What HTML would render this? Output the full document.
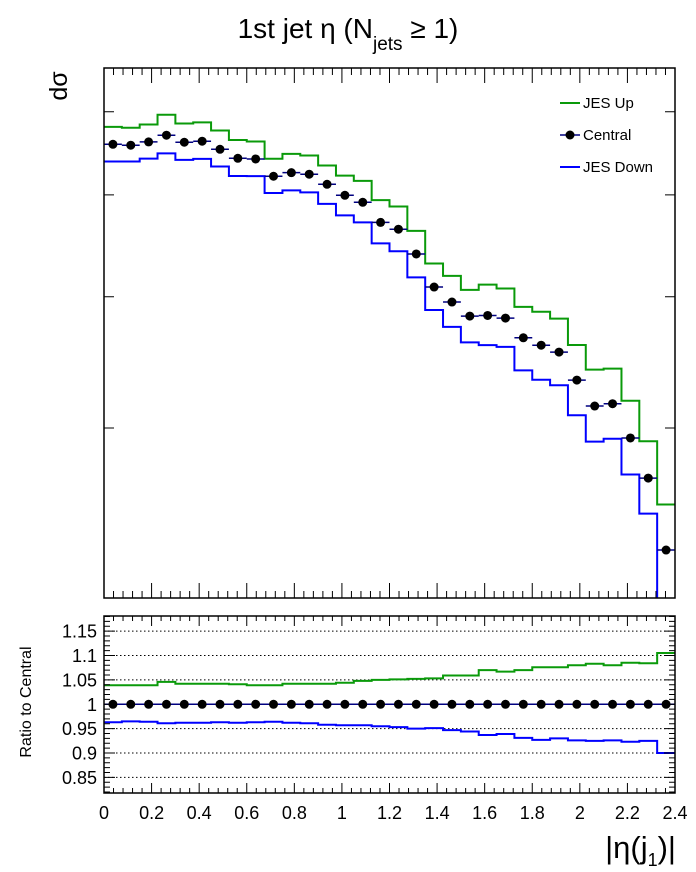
<!DOCTYPE html>
<html><head><meta charset="utf-8"><style>
html,body{margin:0;padding:0;background:#fff;}
svg{display:block;font-family:"Liberation Sans",sans-serif;}
</style></head><body>
<svg id="c" width="696" height="872" viewBox="0 0 696 872" xmlns="http://www.w3.org/2000/svg">
<text x="348" y="38" font-size="28" text-anchor="middle">1st jet η (N<tspan font-size="19" dy="12">jets</tspan><tspan dy="-12"> ≥ 1)</tspan></text>
<text transform="translate(67,86) rotate(-90)" font-size="25" text-anchor="middle">dσ</text>
<text transform="translate(31,702) rotate(-90)" font-size="16" text-anchor="middle">Ratio to Central</text>
<text x="676" y="858" font-size="31" text-anchor="end">|η(j<tspan font-size="18" dy="8">1</tspan><tspan dy="-8">)|</tspan></text>
<g id="legend">
<line x1="560" y1="103" x2="580" y2="103" stroke="#0a9a0a" stroke-width="2"/>
<text x="583" y="108" font-size="15">JES Up</text>
<line x1="560" y1="135" x2="580" y2="135" stroke="#000080" stroke-width="1.5"/>
<circle cx="570" cy="135" r="4.5" fill="#000"/>
<text x="583" y="140" font-size="15">Central</text>
<line x1="560" y1="167" x2="580" y2="167" stroke="#0000ff" stroke-width="2"/>
<text x="583" y="172" font-size="15">JES Down</text>
</g>
</svg>
<script>
const binEdgesMax = 2.4;
const nBins = 32;
const central = [5.587,5.576,5.616,5.699,5.612,5.625,5.526,5.418,5.410,5.209,5.250,5.232,5.118,4.996,4.920,4.708,4.638,4.393,4.086,3.954,3.834,3.839,3.817,3.656,3.597,3.543,3.332,3.148,3.164,2.935,2.688,2.296];
const ratioUp = [1.039,1.039,1.039,1.046,1.042,1.042,1.042,1.041,1.039,1.039,1.042,1.042,1.042,1.044,1.048,1.050,1.051,1.052,1.053,1.059,1.059,1.070,1.067,1.070,1.076,1.076,1.080,1.083,1.080,1.085,1.084,1.105];
const ratioDown = [0.963,0.965,0.964,0.961,0.962,0.962,0.963,0.962,0.963,0.964,0.962,0.961,0.958,0.957,0.957,0.955,0.953,0.950,0.951,0.947,0.944,0.937,0.939,0.931,0.927,0.930,0.926,0.925,0.926,0.923,0.925,0.900];
const xTickLabels = ["0","0.2","0.4","0.6","0.8","1","1.2","1.4","1.6","1.8","2","2.2","2.4"];
const ratioTickLabels = ["0.85","0.9","0.95","1","1.05","1.1","1.15"];
const mainMajorTicks = [3,4,5,6];

const svg = document.getElementById('c');
const NS = 'http://www.w3.org/2000/svg';
const L=104, R=675, MT=68, MB=598, RT=616, RB=793;
const yLogMax=0.8198, yLogMin=0.3153;
const rMax=1.181, rMin=0.818;
const X = v => L + (v/binEdgesMax)*(R-L);
const Y = v => MT + (yLogMax - Math.log10(v))/(yLogMax-yLogMin)*(MB-MT);
const YR = v => RT + (rMax - v)/(rMax-rMin)*(RB-RT);
const bw = binEdgesMax/nBins;
function mk(tag, attrs, parent){const e=document.createElementNS(NS,tag);for(const k in attrs)e.setAttribute(k,attrs[k]);(parent||svg).appendChild(e);return e;}

const defs = mk('defs',{});
const c1 = mk('clipPath',{id:'cm'},defs); mk('rect',{x:L,y:MT,width:R-L,height:MB-MT},c1);
const c2 = mk('clipPath',{id:'cr'},defs); mk('rect',{x:L,y:RT,width:R-L,height:RB-RT},c2);

const ratioVals=[0.85,0.9,0.95,1,1.05,1.1,1.15];
ratioVals.forEach((v,i)=>{
  const g=mk('line',{x1:L,x2:R,y1:YR(v),y2:YR(v),stroke:'#000','stroke-width':1,'stroke-dasharray':'1.5,2.5'});
  
  
  const t=mk('text',{x:97,y:YR(v)+6.5,'font-size':18,'text-anchor':'end'});
  t.textContent=ratioTickLabels[i];
  
  
});

function stepPath(vals, yf, clampY){
  let d='';
  vals.forEach((v,i)=>{
    let y=yf(v); if(clampY!==undefined && (!isFinite(y)||y>clampY)) y=clampY+2;
    const x0=X(i*bw), x1=X((i+1)*bw);
    d += (i===0?'M':'L')+x0+','+y+'L'+x1+','+y;
  });
  return d;
}
const upVals = central.map((c,i)=>c*ratioUp[i]);
const downVals = central.map((c,i)=>c*ratioDown[i]);

const gm = mk('g',{'clip-path':'url(#cm)'});


const pu = mk('path',{d:stepPath(upVals,Y,MB),fill:'none',stroke:'#0a9a0a','stroke-width':2},gm);


const pd = mk('path',{d:stepPath(downVals,Y,MB),fill:'none',stroke:'#0000ff','stroke-width':2},gm);


central.forEach((v,i)=>{
  const y=Y(v), xc=X((i+0.5)*bw);
  const h=mk('line',{x1:X(i*bw),x2:X((i+1)*bw),y1:y,y2:y,stroke:'#000080','stroke-width':1.5},gm);
  
  
  const p=mk('circle',{cx:xc,cy:y,r:4.5,fill:'#000'},gm);
  
  
});

const gr = mk('g',{'clip-path':'url(#cr)'});


const ru = mk('path',{d:stepPath(ratioUp,YR),fill:'none',stroke:'#0a9a0a','stroke-width':2},gr);


const rd = mk('path',{d:stepPath(ratioDown,YR),fill:'none',stroke:'#0000ff','stroke-width':2},gr);


const rc = mk('line',{x1:L,x2:R,y1:YR(1),y2:YR(1),stroke:'#000080','stroke-width':1.5},gr);


central.forEach((v,i)=>{
  const xc=X((i+0.5)*bw);
  const p=mk('circle',{cx:xc,cy:YR(1),r:4.5,fill:'#000'},gr);
  
  
});

const f1=mk('rect',{x:L,y:MT,width:R-L,height:MB-MT,fill:'none',stroke:'#000','stroke-width':1.5});


const f2=mk('rect',{x:L,y:RT,width:R-L,height:RB-RT,fill:'none',stroke:'#000','stroke-width':1.5});



let td='';
for(let k=0;k<=60;k++){
  const v=k*0.04, x=X(v), major=(k%5===0);
  const lm=major?15:7, lr=major?10:5;
  td+=`M${x},${MT}v${lm}M${x},${MB}v${-lm}M${x},${RT}v${lr}M${x},${RB}v${-lr}`;
}
mainMajorTicks.forEach(v=>{const y=Y(v);td+=`M${L},${y}h10M${R},${y}h-10`;});
for(let k=82;k<=118;k++){
  const v=k/100, y=YR(v), major=(k%5===0), l=major?11:6;
  td+=`M${L},${y}h${l}M${R},${y}h${-l}`;
}
const tk=mk('path',{d:td,stroke:'#000','stroke-width':1,fill:'none'});



xTickLabels.forEach((s,i)=>{
  const t=mk('text',{x:X(i*0.2),y:819,'font-size':18,'text-anchor':'middle'});
  t.textContent=s;
  
  
});
</script>
</body></html>
